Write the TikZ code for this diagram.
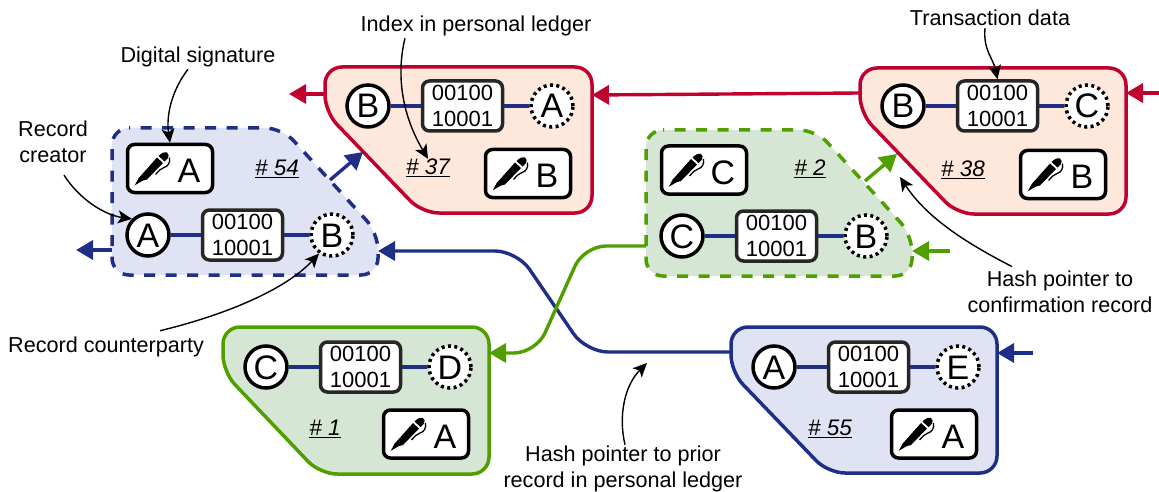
\documentclass[tikz,border=0pt]{standalone}
\usepackage{fontspec}
\setmainfont{Liberation Sans}
\usetikzlibrary{arrows.meta}
\definecolor{navy}{HTML}{1F2F87}
\definecolor{navyfill}{HTML}{DFE3F4}
\definecolor{crim}{HTML}{C0002E}
\definecolor{crimfill}{HTML}{FEE8DC}
\definecolor{leaf}{HTML}{4F9F00}
\definecolor{leaffill}{HTML}{D5E6D5}
\tikzset{
  x=1pt,y=-1pt,
  solidblock/.style={line width=3.5pt,rounded corners=17pt},
  dashblock/.style={line width=3.5pt,rounded corners=17pt,dash pattern=on 11pt off 10.5pt,dash phase=10pt},
  person/.style={circle,draw=black,fill=white,line width=3.5pt,minimum size=42pt,inner sep=0pt,
    font=\fontsize{34}{34}\selectfont,text height=24pt,text depth=0pt},
  party/.style={person,dash pattern=on 3pt off 3.4pt},
  datbox/.style={draw=black!85,fill=white,line width=3.5pt,rounded corners=7pt,minimum width=80pt,minimum height=50pt,
    inner sep=0pt,align=center,font=\fontsize{22}{26}\selectfont},
  sigframe/.style={draw=black,fill=white,line width=3.5pt,rounded corners=7pt,minimum width=85pt,minimum height=48pt,inner sep=0pt},
  sigletter/.style={inner sep=0pt,font=\fontsize{34}{34}\selectfont,anchor=base},
  tag/.style={inner sep=0pt,font=\fontsize{22.5}{22}\itshape\selectfont},
  note/.style={inner sep=0pt,align=center,font=\fontsize{21.6}{26}\selectfont},
  link/.style={navy,line width=3.4pt},
  flow/.style={line width=3.4pt,-{Triangle[length=17pt,width=19pt]}},
  flowcurve/.style={flow,rounded corners=22pt},
  callout/.style={black,line width=1.4pt,-{Stealth[length=14pt,width=13pt,inset=3.5pt]}},
}
% #1 id, #2 #3 origin, #4 creator, #5 counterparty
\newcommand\recrow[5]{%
  \node[person] (#1c) at (#2,#3) {#4};
  \node[datbox] (#1d) at (#2+94.5,#3) {00100\\10001};
  \node[party] (#1p) at (#2+184,#3) {#5};
  \draw[link] (#1c) -- (#1d);
  \draw[link] (#1d) -- (#1p);
}
% #1 id, #2 #3 centre, #4 letter
\newcommand\sigmark[4]{%
  \node[sigframe] (#1s) at (#2,#3) {};
  \node[sigletter] (#1l) at (#2+19,#3+14) {#4};
  \begin{scope}[shift={(#2,#3)}]
    \fill (-35.3,16.8) -- (-31,9) -- (-29,7) -- (-13,-11) -- (-7,-5.5) -- (-23,11) -- (-27,12) -- cycle;
    \fill (-11.5,-12.5) .. controls (-9,-15) and (-6,-17) .. (-3,-16) .. controls (-1,-15) and (-1,-12) .. (-2,-10.5) -- (-5.5,-7) -- cycle;
    \draw[line width=1.3pt] (-0.5,-11) .. controls (0.5,-6) and (-2,-2) .. (-6,-1) .. controls (-9,0) and (-11,2) .. (-14.5,6);
  \end{scope}
}
\begin{document}
\begin{tikzpicture}
\useasboundingbox (0,0) rectangle (1159,492);
% record blocks
\fill[navyfill,rounded corners=17pt] (112,128) -- (282,128) -- (378,233) -- (378,275) -- (112,275) -- cycle;
\draw[navy,dashblock] (112,128) -- (282,128) -- (378,233) -- (378,275) -- (112,275) -- cycle;
\fill[leaffill,rounded corners=17pt] (646,130) -- (816,130) -- (912,235) -- (912,276) -- (646,276) -- cycle;
\draw[leaf,dashblock] (646,130) -- (816,130) -- (912,235) -- (912,276) -- (646,276) -- cycle;
\draw[crim,fill=crimfill,solidblock] (325,67) -- (592,67) -- (592,213) -- (422,213) -- (325,112) -- cycle;
\draw[crim,fill=crimfill,solidblock] (860,68) -- (1126,68) -- (1126,214) -- (957,214) -- (860,113) -- cycle;
\draw[leaf,fill=leaffill,solidblock] (223,327) -- (489,327) -- (489,474) -- (320,474) -- (223,372) -- cycle;
\draw[navy,fill=navyfill,solidblock] (731,327) -- (997,327) -- (997,473) -- (828,473) -- (731,372) -- cycle;
% block ports
\coordinate (w54) at (112,250);
\coordinate (out54) at (76,250);
\coordinate (ne54) at (330,180);
\coordinate (sw37) at (363,152);
\coordinate (e54) at (378,251);
\coordinate (w37) at (325,94);
\coordinate (out37) at (289,94);
\coordinate (e37) at (592,95);
\coordinate (w38) at (860,93);
\coordinate (e38) at (1126,93);
\coordinate (in38) at (1159,93);
\coordinate (ne2) at (865,181);
\coordinate (sw38) at (897,154);
\coordinate (e2) at (912,251);
\coordinate (in2) at (950,251);
\coordinate (w2) at (646,246);
\coordinate (e1) at (489,353);
\coordinate (w55) at (731,352);
\coordinate (e55) at (997,353);
\coordinate (in55) at (1033,353);
% contents
\recrow{a}{148}{235}{A}{B}
\sigmark{a}{170}{168.5}{A}
\node[tag] (n54) at (277,169) {\underline{\# 54}};
\recrow{b}{368}{106}{B}{A}
\sigmark{b}{528}{173.5}{B}
\node[tag] (n37) at (428,168) {\underline{\# 37}};
\recrow{c}{903}{106}{B}{C}
\sigmark{c}{1063}{174.5}{B}
\node[tag] (n38) at (963,170) {\underline{\# 38}};
\recrow{d}{682}{236}{C}{B}
\sigmark{d}{704}{170}{C}
\node[tag] (n2) at (810,169) {\underline{\# 2}};
\recrow{e}{266}{367}{C}{D}
\sigmark{e}{426}{434}{A}
\node[tag] (n1) at (325,429) {\underline{\# 1}};
\recrow{f}{774}{367}{A}{E}
\sigmark{f}{934}{434}{A}
\node[tag] (n55) at (830,429) {\underline{\# 55}};
% pointers
\draw[flow,navy] (w54) -- (out54);
\draw[flow,navy] (ne54) -- (sw37);
\draw[flow,crim] (w37) -- (out37);
\draw[flow,crim] (w38) -- (e37);
\draw[flow,crim] (in38) -- (e38);
\draw[flow,leaf] (ne2) -- (sw38);
\draw[flow,leaf] (in2) -- (e2);
\draw[flow,navy] (in55) -- (e55);
\draw[flowcurve,navy] (w55) -- (586,352) -- (517,251) -- (e54);
\draw[flowcurve,leaf] (w2) -- (584,246) -- (536,353) -- (e1);
% annotations
\node[note] (tsig) at (198,57) {Digital signature};
\node[note] (tcre) at (53,142) {Record\\creator};
\node[note,anchor=west] (tcou) at (8,347) {Record counterparty};
\node[note] (tidx) at (476,26) {Index in personal ledger};
\node[note] (ttra) at (990,18) {Transaction data};
\node[note] (tcon) at (1060,291.7) {Hash pointer to\\confirmation record};
\node[note] (tpri) at (623,469) {Hash pointer to prior\\record in personal ledger};
\coordinate (tipcon) at (900,177);
\coordinate (tippri) at (647,363);
\draw[callout] (tsig.south) ++(-10,2) .. controls (172,90) and (166,115) .. (as.north);
\draw[callout] (tcre.south) ++(11,12) .. controls (80,200) and (105,215) .. (ac.135);
\draw[callout] (tcou.north) ++(54,-6) .. controls (225,315) and (285,290) .. (ap.235);
\draw[callout] (tidx.south) ++(-71,2) .. controls (396,75) and (402,115) .. (n37.north);
\draw[callout] (ttra.south) ++(-5,2) .. controls (983,50) and (993,58) .. (cd.north);
\draw[callout] (tcon.north) ++(-48,-4) .. controls (960,240) and (925,215) .. (tipcon);
\draw[callout] (tpri.north) ++(2,-1) .. controls (618,415) and (625,385) .. (tippri);
\end{tikzpicture}
\end{document}
